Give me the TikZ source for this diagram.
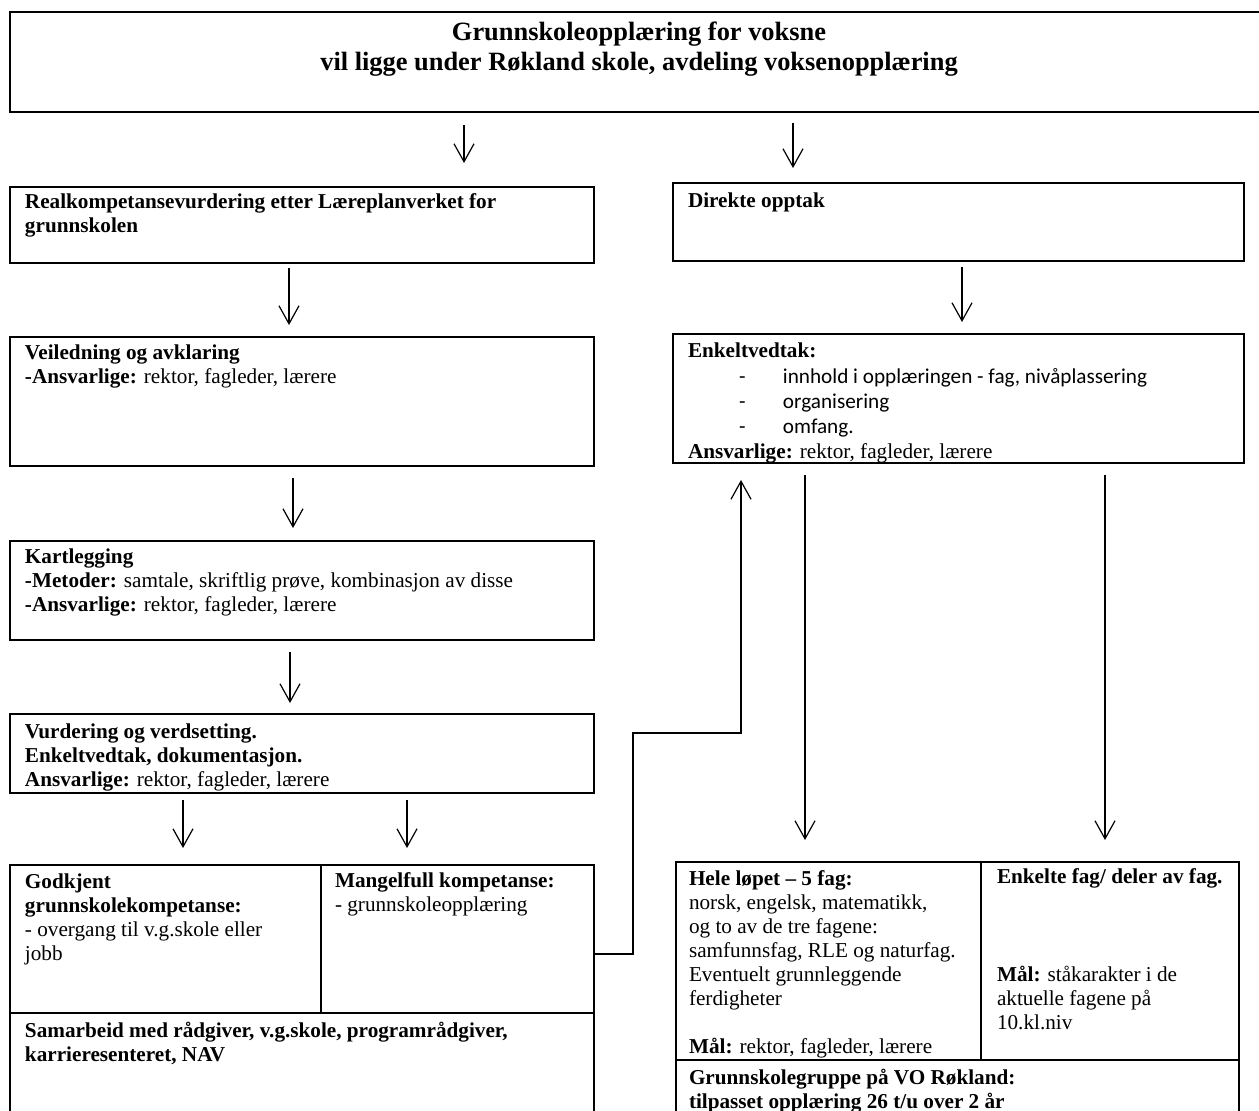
\documentclass[tikz,border=0pt]{standalone}
\usepackage{fontspec}
\setmainfont{Liberation Serif}
\newfontfamily\calib{Carlito}
\usetikzlibrary{arrows.meta}
\begin{document}
\begin{tikzpicture}[x=0.5pt,y=-0.5pt,
  boxst/.style={draw, line width=0.8pt, inner sep=0pt, outer sep=0pt, anchor=north west},
  txt/.style={inner sep=0pt, outer sep=0pt, anchor=north west, align=left, font=\fontsize{10.6}{12}\selectfont},
  listtxt/.style={inner sep=0pt, outer sep=0pt, anchor=north west, align=left, font=\calib\fontsize{10.6}{12.5}\selectfont},
  titletxt/.style={inner sep=0pt, outer sep=0pt, anchor=north, align=center, font=\bfseries\fontsize{13.2}{15}\selectfont},
  arr/.style={line width=0.6pt, -{Straight Barb[length=9pt,width=10pt]}},
  divider/.style={line width=0.8pt}]
\fill[white] (0,0) rectangle (1259,1110);
\useasboundingbox (0,0) rectangle (1259,1110);

% boxes
\node[boxst, minimum width=626pt, minimum height=50pt] (top) at (10,12) {};
\node[boxst, minimum width=292pt, minimum height=38pt] (b1) at (10,187) {};
\node[boxst, minimum width=292pt, minimum height=64.5pt] (b2) at (10,337) {};
\node[boxst, minimum width=292pt, minimum height=49.5pt] (b3) at (10,541) {};
\node[boxst, minimum width=292pt, minimum height=39.5pt] (b4) at (10,714) {};
\node[boxst, minimum width=292pt, minimum height=125.5pt] (bl) at (10,865) {};
\node[boxst, minimum width=285.5pt, minimum height=39pt] (r1) at (673,183) {};
\node[boxst, minimum width=285.5pt, minimum height=64.5pt] (r2) at (673,334) {};
\node[boxst, minimum width=281.5pt, minimum height=127pt] (br) at (676,862) {};

% dividers
\draw[divider] (321,865) -- (321,1013);
\draw[divider] (10,1013) -- (594,1013);
\draw[divider] (981,862) -- (981,1060);
\draw[divider] (676,1060) -- (1239,1060);

% texts
\node[titletxt] (title) at (639,19) {\strut Grunnskoleopplæring for voksne\\vil ligge under Røkland skole, avdeling voksenopplæring};
\node[txt] (t1) at (25,191.2) {\strut\textbf{Realkompetansevurdering etter Læreplanverket for}\\\textbf{grunnskolen}};
\node[txt] (t2) at (25,342.2) {\strut\textbf{Veiledning og avklaring}\\\textbf{-Ansvarlige:} rektor, fagleder, lærere};
\node[txt] (t3) at (25,546.2) {\strut\textbf{Kartlegging}\\\textbf{-Metoder:} samtale, skriftlig prøve, kombinasjon av disse\\\textbf{-Ansvarlige:} rektor, fagleder, lærere};
\node[txt] (t4) at (25,721.2) {\strut\textbf{Vurdering og verdsetting.}\\\textbf{Enkeltvedtak, dokumentasjon.}\\\textbf{Ansvarlige:} rektor, fagleder, lærere};
\node[txt] (t5) at (25,871.2) {\strut\textbf{Godkjent}\\\textbf{grunnskolekompetanse:}\\- overgang til v.g.skole eller\\jobb};
\node[txt] (t6) at (335,870.2) {\strut\textbf{Mangelfull kompetanse:}\\- grunnskoleopplæring};
\node[txt] (t7) at (25,1020.2) {\strut\textbf{Samarbeid med rådgiver, v.g.skole, programrådgiver,}\\\textbf{karrieresenteret, NAV}};
\node[txt] (t8) at (688,190.2) {\strut\textbf{Direkte opptak}};
\node[txt] (t9) at (688,340.2) {\strut\textbf{Enkeltvedtak:}};
\node[listtxt] (t10) at (739,365.5) {\strut\makebox[22pt][l]{-}innhold i opplæringen - fag, nivåplassering\\\makebox[22pt][l]{-}organisering\\\makebox[22pt][l]{-}omfang.};
\node[txt] (t11) at (688,441.2) {\strut\textbf{Ansvarlige:} rektor, fagleder, lærere};
\node[txt] (t12) at (689,868.2) {\strut\textbf{Hele løpet – 5 fag:}\\norsk, engelsk, matematikk,\\og to av de tre fagene:\\samfunnsfag, RLE og naturfag.\\Eventuelt grunnleggende\\ferdigheter\\[12pt]\textbf{Mål:} rektor, fagleder, lærere};
\node[txt] (t13) at (997,866.2) {\strut\textbf{Enkelte fag/ deler av fag.}};
\node[txt] (t14) at (997,964.2) {\strut\textbf{Mål:} ståkarakter i de\\aktuelle fagene på\\10.kl.niv};
\node[txt] (t15) at (689,1067.2) {\strut\textbf{Grunnskolegruppe på VO Røkland:}\\\textbf{tilpasset opplæring 26 t/u over 2 år}};

% connectors
\draw[arr, shorten <=6.5pt, shorten >=12pt] (top.south -| 464,0) -- (b1.north -| 464,0);
\draw[arr, shorten <=5.5pt, shorten >=7.5pt] (top.south -| 793,0) -- (r1.north -| 793,0);
\draw[arr, shorten <=2.5pt, shorten >=6pt] (b1.south -| 289,0) -- (b2.north -| 289,0);
\draw[arr, shorten <=6pt, shorten >=6.5pt] (b2.south -| 293,0) -- (b3.north -| 293,0);
\draw[arr, shorten <=6pt, shorten >=5.5pt] (b3.south -| 290,0) -- (b4.north -| 290,0);
\draw[arr, shorten <=3.5pt, shorten >=8.5pt] (b4.south -| 183,0) -- (bl.north -| 183,0);
\draw[arr, shorten <=3.5pt, shorten >=8.5pt] (b4.south -| 407,0) -- (bl.north -| 407,0);
\draw[arr, shorten <=3pt, shorten >=6pt] (r1.south -| 962,0) -- (r2.north -| 962,0);
\draw[arr, shorten <=6pt, shorten >=11pt] (r2.south -| 805,0) -- (br.north -| 805,0);
\draw[arr, shorten <=6pt, shorten >=11pt] (r2.south -| 1105,0) -- (br.north -| 1105,0);
\draw[arr, shorten >=8.5pt] (bl.north east |- 0,954) -- (633,954) -- (633,733) -| (r2.south -| 741,0);
\end{tikzpicture}
\end{document}
